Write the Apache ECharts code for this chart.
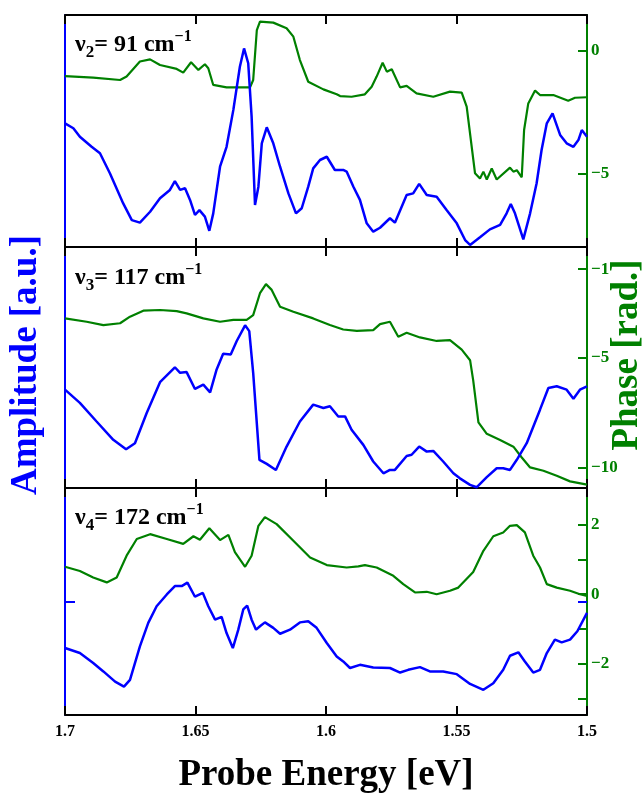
<!DOCTYPE html>
<html>
<head>
<meta charset="utf-8">
<script src="https://cdn.jsdelivr.net/npm/echarts@6/dist/echarts.min.js"></script>
<style>
  html, body { margin: 0; padding: 0; background: #fff; }
</style>
</head>
<body>
<div id="main" style="width: 644px;height: 794px;"></div>
<script>
// probe energy [eV], value pairs
// amplitude is arbitrary units (0..100 across each panel), phase in rad
var amp2 = [[1.7,53.3],[1.6968,51.2],[1.6943,47.5],[1.6898,43.2],[1.6866,40.4],[1.6828,31.8],[1.6777,18.8],[1.6744,11.6],[1.6713,10.5],[1.6674,15.2],[1.6636,21.0],[1.6598,24.6],[1.6579,28.4],[1.6559,24.6],[1.6540,25.3],[1.6521,20.3],[1.6502,13.8],[1.6485,15.9],[1.6464,13.1],[1.6447,7.0],[1.6432,14.5],[1.6406,34.6],[1.6381,43.2],[1.6355,59.1],[1.6330,77.7],[1.6314,85.6],[1.6298,79.2],[1.6285,56.2],[1.6272,18.1],[1.6259,26.0],[1.6246,44.7],[1.6227,51.6],[1.6202,44.7],[1.6176,34.6],[1.6144,23.1],[1.6115,14.5],[1.6093,16.7],[1.6068,26.0],[1.6049,33.9],[1.6023,37.5],[1.5997,38.9],[1.5966,33.2],[1.5946,33.2],[1.5934,33.2],[1.5921,32.5],[1.5895,26.0],[1.5870,20.3],[1.5844,10.2],[1.5819,6.6],[1.5793,8.3],[1.5755,12.4],[1.5736,10.5],[1.5691,22.4],[1.5666,23.1],[1.5643,27.2],[1.5614,22.4],[1.5576,21.7],[1.5538,15.9],[1.5499,10.2],[1.5467,3.0],[1.5448,0.9],[1.5410,4.2],[1.5372,7.6],[1.5333,9.5],[1.5308,14.5],[1.5292,18.5],[1.5276,14.5],[1.5244,3.3],[1.5218,14.5],[1.5193,27.5],[1.5174,41.8],[1.5154,53.3],[1.5132,57.6],[1.5103,48.3],[1.5078,44.7],[1.5052,43.2],[1.5033,46.1],[1.5020,50.4],[1.5,47.5]]
var phase2 = [[1.7,-1.02],[1.6892,-1.08],[1.6789,-1.18],[1.6764,-1.04],[1.6713,-0.43],[1.6674,-0.34],[1.6636,-0.57],[1.6572,-0.73],[1.6547,-0.88],[1.6517,-0.46],[1.6489,-0.77],[1.6464,-0.54],[1.6451,-0.70],[1.6432,-1.38],[1.6381,-1.48],[1.6291,-1.48],[1.6279,-1.18],[1.6265,0.85],[1.6253,1.19],[1.6202,1.15],[1.6151,0.92],[1.6125,0.58],[1.6100,-0.37],[1.6068,-1.25],[1.6010,-1.56],[1.5959,-1.76],[1.5946,-1.83],[1.5902,-1.86],[1.5895,-1.92],[1.5851,-1.76],[1.5825,-1.45],[1.5806,-1.04],[1.5783,-0.48],[1.5767,-0.84],[1.5748,-0.74],[1.5716,-1.48],[1.5691,-1.42],[1.5653,-1.72],[1.5589,-1.86],[1.5525,-1.65],[1.5480,-1.69],[1.5461,-2.26],[1.5429,-4.97],[1.5410,-5.18],[1.5397,-4.90],[1.5384,-5.22],[1.5365,-4.77],[1.5346,-5.22],[1.5295,-4.74],[1.5282,-4.90],[1.5269,-4.84],[1.5250,-5.13],[1.5241,-3.21],[1.5225,-2.13],[1.5199,-1.61],[1.5180,-1.79],[1.5129,-1.79],[1.5072,-2.02],[1.5046,-1.90],[1.5,-1.88]]

var amp3 = [[1.7,40.8],[1.6943,35.3],[1.6879,27.6],[1.6815,20.0],[1.6766,16.1],[1.6732,18.6],[1.6687,31.1],[1.6636,43.9],[1.6579,50.1],[1.6559,47.8],[1.6534,48.1],[1.6502,41.1],[1.6470,42.9],[1.6444,39.7],[1.6419,49.2],[1.6394,55.7],[1.6365,55.4],[1.6342,61.0],[1.6310,67.5],[1.6294,65.1],[1.6279,47.8],[1.6255,11.7],[1.6227,10.0],[1.6192,7.5],[1.6151,17.2],[1.6100,27.6],[1.6049,34.6],[1.6010,33.2],[1.5985,33.9],[1.5953,29.7],[1.5927,29.7],[1.5902,24.2],[1.5857,17.9],[1.5819,11.0],[1.5780,6.1],[1.5755,7.5],[1.5736,7.5],[1.5691,13.3],[1.5672,13.8],[1.5643,17.2],[1.5614,15.1],[1.5589,15.4],[1.5551,11.0],[1.5512,6.1],[1.5487,4.0],[1.5448,1.3],[1.5423,0.3],[1.5384,4.5],[1.5346,8.2],[1.5321,8.2],[1.5295,7.5],[1.5269,11.7],[1.5231,18.6],[1.5180,32.5],[1.5148,41.5],[1.5116,42.2],[1.5078,40.8],[1.5052,37.0],[1.5027,40.8],[1.5,42.2]]
var phase3 = [[1.7,-3.23],[1.6917,-3.38],[1.6853,-3.53],[1.6789,-3.45],[1.6751,-3.15],[1.6700,-2.88],[1.6636,-2.85],[1.6572,-2.90],[1.6534,-3.00],[1.6470,-3.23],[1.6406,-3.38],[1.6355,-3.30],[1.6304,-3.30],[1.6279,-3.08],[1.6253,-2.09],[1.6230,-1.68],[1.6208,-1.94],[1.6176,-2.70],[1.6125,-2.93],[1.6049,-3.23],[1.5985,-3.53],[1.5934,-3.73],[1.5882,-3.79],[1.5819,-3.76],[1.5793,-3.49],[1.5755,-3.38],[1.5723,-4.06],[1.5691,-3.88],[1.5640,-4.09],[1.5576,-4.25],[1.5525,-4.21],[1.5480,-4.64],[1.5448,-5.12],[1.5436,-6.03],[1.5416,-7.93],[1.5384,-8.45],[1.5333,-8.73],[1.5282,-9.03],[1.5250,-9.52],[1.5218,-9.97],[1.5167,-10.12],[1.5116,-10.35],[1.5065,-10.6],[1.5,-10.75]]

var amp4 = [[1.7,29.5],[1.6943,27.3],[1.6892,22.9],[1.6853,19.2],[1.6808,14.7],[1.6774,12.5],[1.6751,15.5],[1.6713,30.2],[1.6681,40.6],[1.6649,47.9],[1.6610,53.1],[1.6579,56.8],[1.6553,56.8],[1.6531,58.3],[1.6502,52.1],[1.6472,53.8],[1.6451,47.9],[1.6425,42.0],[1.6400,43.2],[1.6381,36.1],[1.6357,29.5],[1.6336,37.6],[1.6317,46.5],[1.6302,48.2],[1.6285,42.0],[1.6268,37.6],[1.6253,39.1],[1.6234,40.8],[1.6202,38.4],[1.6176,35.8],[1.6138,37.6],[1.6100,40.8],[1.6068,41.3],[1.6036,38.4],[1.5997,31.7],[1.5959,25.8],[1.5934,23.6],[1.5908,20.7],[1.5870,22.1],[1.5819,20.9],[1.5755,20.7],[1.5716,18.7],[1.5685,19.9],[1.5640,21.1],[1.5602,19.2],[1.5551,19.2],[1.5499,18.0],[1.5448,13.7],[1.5397,11.1],[1.5359,14.0],[1.5321,19.9],[1.5295,26.1],[1.5263,27.6],[1.5238,23.6],[1.5206,18.7],[1.5180,19.9],[1.5154,27.3],[1.5123,33.2],[1.5097,32.0],[1.5065,33.2],[1.5037,36.9],[1.5,45.0]]
var phase4 = [[1.7,0.79],[1.6943,0.67],[1.6892,0.48],[1.6840,0.34],[1.6802,0.48],[1.6764,1.11],[1.6725,1.59],[1.6674,1.73],[1.6610,1.59],[1.6547,1.45],[1.6508,1.67],[1.6483,1.57],[1.6447,1.90],[1.6406,1.56],[1.6374,1.71],[1.6349,1.21],[1.6310,0.79],[1.6285,1.11],[1.6259,1.97],[1.6234,2.22],[1.6189,2.02],[1.6125,1.54],[1.6061,1.06],[1.5997,0.84],[1.5921,0.77],[1.5876,0.80],[1.5851,0.84],[1.5806,0.77],[1.5742,0.53],[1.5704,0.29],[1.5659,0.05],[1.5614,0.07],[1.5576,0.00],[1.5525,0.10],[1.5493,0.19],[1.5436,0.64],[1.5397,1.25],[1.5359,1.67],[1.5321,1.78],[1.5295,1.97],[1.5269,1.99],[1.5238,1.78],[1.5206,1.11],[1.5180,0.77],[1.5154,0.29],[1.5116,0.19],[1.5065,0.10],[1.5027,0.00],[1.5,-0.05]]

// mode labels: [subscript, wavenumber]
var modes = [['2', '91'], ['3', '117'], ['4', '172']]
// phase axis ranges and tick values per panel
var phaseRanges = [[-7.96, 1.46], [-10.9, 0], [-3.48, 3.06]]
var phaseTicks = [[-5, 0], [-10, -5, -1], [-3, -2, -1, 0, 1, 2]]
var phaseLabels = [[-5, 0], [-10, -5, -1], [-2, 0, 2]]

var BLUE = '#0000ff'
var GREEN = '#008000'
var FONT = 'Liberation Serif'

var myChart = echarts.init(document.getElementById('main'))

var grids = [
  { left: 65, width: 522, top: 15, height: 232 },
  { left: 65, width: 522, top: 247, height: 241 },
  { left: 65, width: 522, top: 488, height: 227 }
]

var xAxes = []
var yAxes = []
grids.forEach(function (g, i) {
  var last = i === grids.length - 1
  ;['bottom', 'top'].forEach(function (pos) {
    xAxes.push({
      type: 'value',
      gridIndex: i,
      position: pos,
      inverse: true,
      min: 1.5,
      max: 1.7,
      interval: 0.05,
      axisLine: { onZero: false, lineStyle: { color: '#000', width: 2 } },
      axisTick: { inside: true, length: 9, lineStyle: { color: '#000', width: 2 } },
      axisLabel: {
        show: last && pos === 'bottom',
        color: '#000',
        fontFamily: FONT,
        fontWeight: 'bold',
        fontSize: 16,
        margin: 9,
        formatter: function (v) { return String(+v.toFixed(2)) }
      },
      splitLine: { show: false }
    })
  })
  yAxes.push({
    type: 'value',
    gridIndex: i,
    position: 'left',
    min: 0,
    max: 100,
    axisLine: { show: true, onZero: false, lineStyle: { color: BLUE, width: 2 } },
    axisTick: last
      ? { show: true, inside: true, length: 10, customValues: [50], lineStyle: { color: BLUE, width: 2 } }
      : { show: false },
    axisLabel: { show: false },
    splitLine: { show: false }
  })
  yAxes.push({
    type: 'value',
    gridIndex: i,
    position: 'right',
    min: phaseRanges[i][0],
    max: phaseRanges[i][1],
    axisLine: { show: true, onZero: false, lineStyle: { color: GREEN, width: 2 } },
    axisTick: { show: true, inside: true, length: 9, customValues: phaseTicks[i], lineStyle: { color: GREEN, width: 2 } },
    axisLabel: {
      show: true,
      customValues: phaseLabels[i],
      color: GREEN,
      fontFamily: FONT,
      fontWeight: 'bold',
      fontSize: 17,
      margin: 4,
      formatter: function (v) { return String(v).replace('-', '\u2212') }
    },
    splitLine: { show: false }
  })
})
// small blue tick on the right of the bottom panel
yAxes.push({
  type: 'value',
  gridIndex: 2,
  position: 'right',
  min: 0,
  max: 100,
  axisLine: { show: false },
  axisTick: { show: true, inside: true, length: 9, customValues: [50], lineStyle: { color: BLUE, width: 2 } },
  axisLabel: { show: false },
  splitLine: { show: false }
})

var ampData = [amp2, amp3, amp4]
var phaseData = [phase2, phase3, phase4]
var series = []
for (var i = 0; i < 3; i++) {
  series.push({
    type: 'line',
    xAxisIndex: i * 2,
    yAxisIndex: i * 2,
    data: ampData[i],
    showSymbol: false,
    lineStyle: { color: BLUE, width: 2.5 },
    z: 3
  })
  series.push({
    type: 'line',
    xAxisIndex: i * 2,
    yAxisIndex: i * 2 + 1,
    data: phaseData[i],
    showSymbol: false,
    lineStyle: { color: GREEN, width: 2.2 },
    z: 2
  })
}

var modeCenters = [45, 278, 518]
var modeLabels = modes.map(function (m, i) {
  return {
    type: 'text',
    left: 75,
    top: modeCenters[i] - 16,
    style: {
      text: '{n|\u03bd}{s|' + m[0] + '}{n|= ' + m[1] + ' cm}{p|\u22121}',
      rich: {
        n: { fontFamily: FONT, fontWeight: 'bold', fontSize: 24, color: '#000', lineHeight: 32, verticalAlign: 'middle' },
        s: { fontFamily: FONT, fontWeight: 'bold', fontSize: 17, color: '#000', lineHeight: 32, verticalAlign: 'bottom' },
        p: { fontFamily: FONT, fontWeight: 'bold', fontSize: 16, color: '#000', lineHeight: 32, verticalAlign: 'top' }
      }
    }
  }
})

var option = {
  animation: false,
  backgroundColor: '#fff',
  grid: grids,
  xAxis: xAxes,
  yAxis: yAxes,
  series: series,
  graphic: modeLabels.concat([
    {
      type: 'text',
      x: 26,
      y: 365,
      rotation: Math.PI / 2,
      style: { text: 'Amplitude [a.u.]', fill: BLUE, font: 'bold 37px "Liberation Serif"', align: 'center', verticalAlign: 'middle' }
    },
    {
      type: 'text',
      x: 627,
      y: 355,
      rotation: Math.PI / 2,
      style: { text: 'Phase [rad.]', fill: GREEN, font: 'bold 37px "Liberation Serif"', align: 'center', verticalAlign: 'middle' }
    },
    {
      type: 'text',
      x: 326,
      y: 775,
      style: { text: 'Probe Energy [eV]', fill: '#000', font: 'bold 37px "Liberation Serif"', align: 'center', verticalAlign: 'middle' }
    }
  ])
}
myChart.setOption(option)
</script>
</body>
</html>
